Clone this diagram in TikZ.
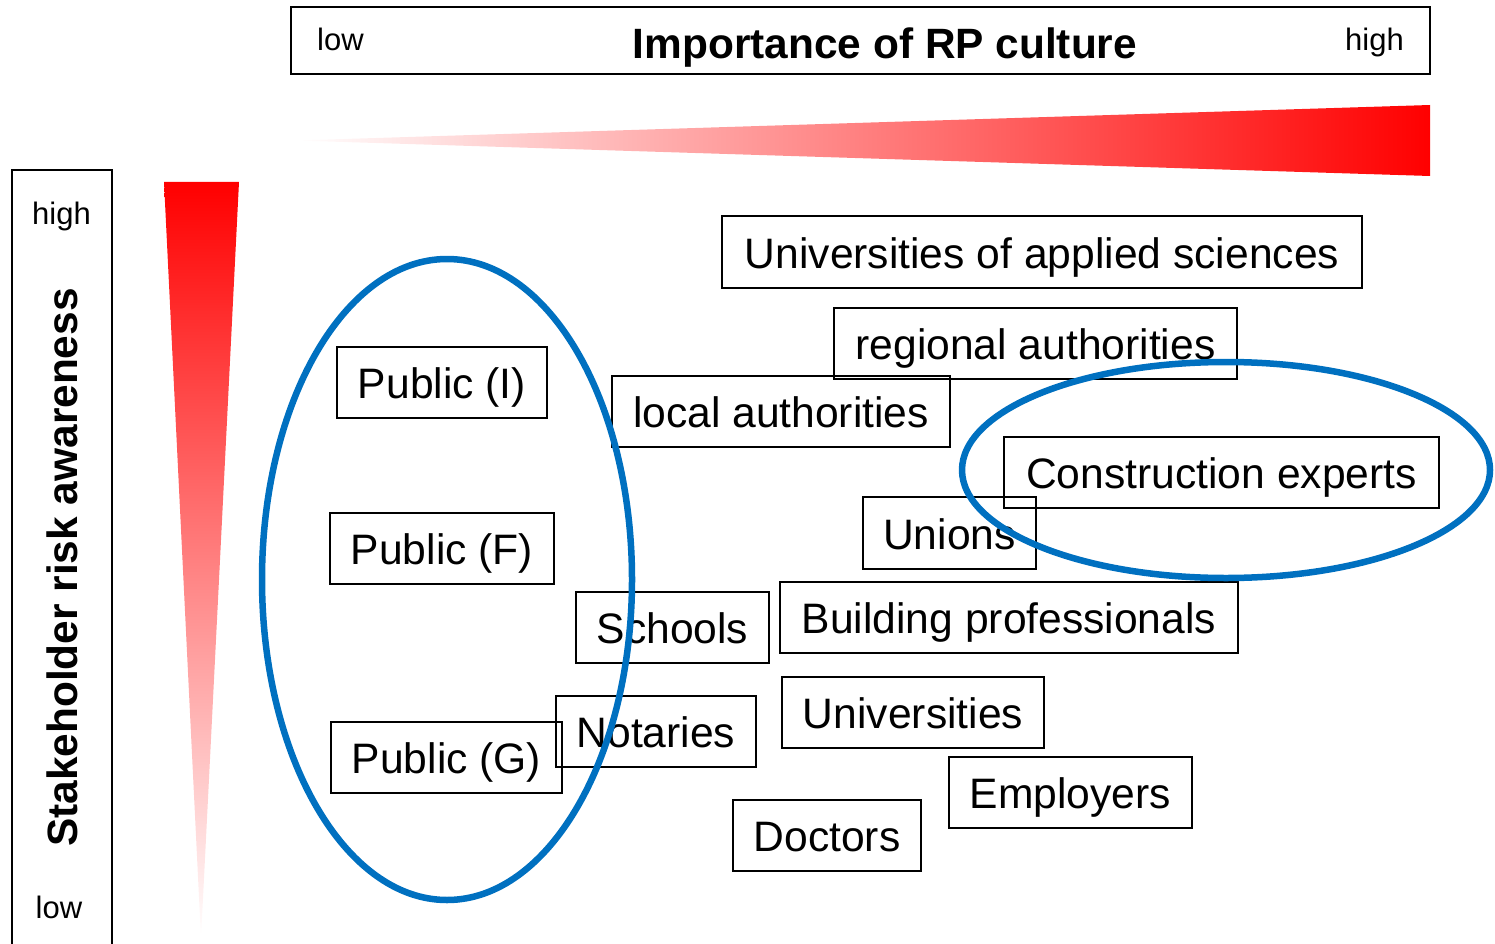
\documentclass[tikz,border=0pt]{standalone}
\usepackage{fontspec}
\setmainfont{Liberation Sans}
\definecolor{ringblue}{HTML}{0070C0}
\begin{document}
\begin{tikzpicture}[x=1pt,y=-1pt,
  frame/.style={draw=black, line width=2.6pt, inner sep=0pt},
  group/.style={draw=black, line width=2.3pt, inner sep=0pt,
    font=\fontsize{42.6}{48}\selectfont, text height=34pt, text depth=2pt},
  endlabel/.style={font=\fontsize{31}{36}\selectfont, inner sep=0pt},
  axistitle/.style={font=\fontsize{42.4}{48}\selectfont\bfseries, inner sep=0pt},
  ring/.style={draw=ringblue, line width=6.5pt}]
\useasboundingbox (0,0) rectangle (1495,944);

% horizontal axis: frame, labels and wedge
\node[frame, minimum width=1139pt, minimum height=67pt] (xframe) at (860.5,40.5) {};
\node[endlabel, anchor=base west] (xlow) at (317,51) {low};
\node[axistitle, anchor=base] (xtitle) at (885,59) {Importance of RP culture};
\node[endlabel, anchor=base east] (xhigh) at (1404,51) {high};
\shade[left color=white, right color=red] (296,140.5) -- (1430,105) -- (1430,176) -- cycle;

% vertical axis: frame, labels and wedge
\node[frame, minimum width=100pt, minimum height=800pt] (yframe) at (62,570) {};
\node[endlabel, anchor=base] (yhigh) at (61.5,224) {high};
\node[endlabel, anchor=base] (ylow) at (59,918) {low};
\node[axistitle, rotate=90, anchor=base] (ytitle) at (77,567.5) {Stakeholder risk awareness};
\shade[top color=red, bottom color=white] (164,182) -- (239,182) -- (201,938) -- cycle;

% stakeholder groups
\node[group, minimum width=640pt, minimum height=72pt] (uas) at (1042,252) {Universities of applied sciences};
\node[group, minimum width=403pt, minimum height=71pt] (regional) at (1035.5,343.5) {regional authorities};
\node[group, minimum width=338pt, minimum height=71pt] (local) at (781,411.5) {local authorities};
\node[group, minimum width=435pt, minimum height=71pt] (construction) at (1221.5,472.5) {Construction experts};
\node[group, minimum width=173pt, minimum height=72pt] (unions) at (949.5,533) {Unions};
\node[group, minimum width=458pt, minimum height=71pt] (building) at (1009,617.5) {Building professionals};
\node[group, minimum width=193pt, minimum height=71pt] (schools) at (672.5,627.5) {Schools};
\node[group, minimum width=262pt, minimum height=71pt] (univ) at (913,712.5) {Universities};
\node[group, minimum width=200pt, minimum height=71pt] (notaries) at (656,731.5) {Notaries};
\node[group, minimum width=243pt, minimum height=71pt] (employers) at (1070.5,792.5) {Employers};
\node[group, minimum width=188pt, minimum height=71pt] (doctors) at (827,835.5) {Doctors};
\node[group, minimum width=210pt, minimum height=71pt] (publicI) at (442,382.5) {Public (I)};
\node[group, minimum width=224pt, minimum height=71pt] (publicF) at (442,548.5) {Public (F)};
\node[group, minimum width=231pt, minimum height=71pt] (publicG) at (446.5,757.5) {Public (G)};

% highlighted clusters
\draw[ring] (447,579.5) ellipse [x radius=185, y radius=320.5];
\draw[ring] (1226,470) ellipse [x radius=264, y radius=108];
\end{tikzpicture}
\end{document}
